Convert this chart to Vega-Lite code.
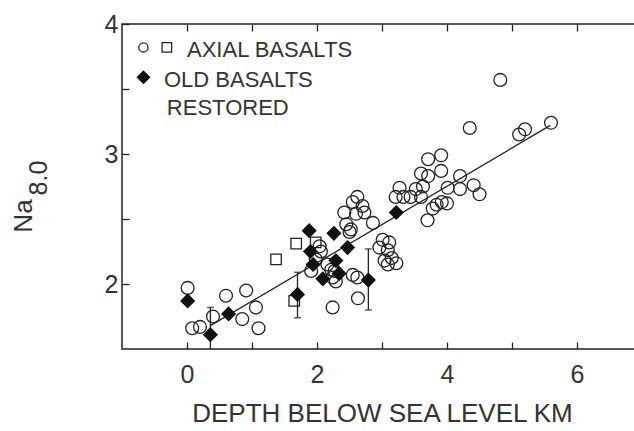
{
  "$schema": "https://vega.github.io/schema/vega-lite/v6.json",
  "width": 520,
  "height": 325,
  "autosize": {"type": "none"},
  "padding": {"left": 122, "top": 24, "right": 0, "bottom": 82},
  "background": "white",
  "config": {
    "font": "Liberation Sans",
    "view": {"stroke": "#222", "strokeWidth": 1.5},
    "axis": {"labelColor": "#333", "tickColor": "#222", "titleColor": "#333", "labelFont": "Liberation Sans", "titleFont": "Liberation Sans", "grid": false, "domain": false, "tickWidth": 1.3, "zindex": 2}
  },
  "datasets": {
    "pts": [
      {"depth": 0.01, "na": 1.97, "kind": "axial circle"},
      {"depth": 0.08, "na": 1.66, "kind": "axial circle"},
      {"depth": 0.20, "na": 1.67, "kind": "axial circle"},
      {"depth": 0.40, "na": 1.75, "kind": "axial circle"},
      {"depth": 0.60, "na": 1.91, "kind": "axial circle"},
      {"depth": 0.91, "na": 1.95, "kind": "axial circle"},
      {"depth": 0.85, "na": 1.73, "kind": "axial circle"},
      {"depth": 1.06, "na": 1.82, "kind": "axial circle"},
      {"depth": 1.10, "na": 1.66, "kind": "axial circle"},
      {"depth": 1.91, "na": 2.10, "kind": "axial circle"},
      {"depth": 2.04, "na": 2.29, "kind": "axial circle"},
      {"depth": 2.06, "na": 2.25, "kind": "axial circle"},
      {"depth": 1.98, "na": 2.19, "kind": "axial circle"},
      {"depth": 2.16, "na": 2.15, "kind": "axial circle"},
      {"depth": 2.22, "na": 2.11, "kind": "axial circle"},
      {"depth": 2.27, "na": 2.10, "kind": "axial circle"},
      {"depth": 2.24, "na": 2.05, "kind": "axial circle"},
      {"depth": 2.29, "na": 2.02, "kind": "axial circle"},
      {"depth": 2.24, "na": 1.82, "kind": "axial circle"},
      {"depth": 2.55, "na": 2.07, "kind": "axial circle"},
      {"depth": 2.62, "na": 2.05, "kind": "axial circle"},
      {"depth": 2.63, "na": 1.89, "kind": "axial circle"},
      {"depth": 2.42, "na": 2.55, "kind": "axial circle"},
      {"depth": 2.55, "na": 2.63, "kind": "axial circle"},
      {"depth": 2.62, "na": 2.67, "kind": "axial circle"},
      {"depth": 2.70, "na": 2.60, "kind": "axial circle"},
      {"depth": 2.60, "na": 2.54, "kind": "axial circle"},
      {"depth": 2.73, "na": 2.55, "kind": "axial circle"},
      {"depth": 2.86, "na": 2.47, "kind": "axial circle"},
      {"depth": 2.45, "na": 2.46, "kind": "axial circle"},
      {"depth": 2.52, "na": 2.42, "kind": "axial circle"},
      {"depth": 2.50, "na": 2.40, "kind": "axial circle"},
      {"depth": 2.96, "na": 2.28, "kind": "axial circle"},
      {"depth": 3.01, "na": 2.34, "kind": "axial circle"},
      {"depth": 3.11, "na": 2.32, "kind": "axial circle"},
      {"depth": 3.09, "na": 2.26, "kind": "axial circle"},
      {"depth": 3.04, "na": 2.18, "kind": "axial circle"},
      {"depth": 3.15, "na": 2.20, "kind": "axial circle"},
      {"depth": 3.22, "na": 2.16, "kind": "axial circle"},
      {"depth": 3.09, "na": 2.15, "kind": "axial circle"},
      {"depth": 3.21, "na": 2.67, "kind": "axial circle"},
      {"depth": 3.27, "na": 2.74, "kind": "axial circle"},
      {"depth": 3.33, "na": 2.67, "kind": "axial circle"},
      {"depth": 3.44, "na": 2.67, "kind": "axial circle"},
      {"depth": 3.52, "na": 2.73, "kind": "axial circle"},
      {"depth": 3.60, "na": 2.67, "kind": "axial circle"},
      {"depth": 3.63, "na": 2.75, "kind": "axial circle"},
      {"depth": 3.60, "na": 2.85, "kind": "axial circle"},
      {"depth": 3.71, "na": 2.83, "kind": "axial circle"},
      {"depth": 3.71, "na": 2.96, "kind": "axial circle"},
      {"depth": 3.91, "na": 2.99, "kind": "axial circle"},
      {"depth": 3.91, "na": 2.87, "kind": "axial circle"},
      {"depth": 4.01, "na": 2.74, "kind": "axial circle"},
      {"depth": 4.20, "na": 2.83, "kind": "axial circle"},
      {"depth": 4.20, "na": 2.73, "kind": "axial circle"},
      {"depth": 4.41, "na": 2.76, "kind": "axial circle"},
      {"depth": 4.50, "na": 2.69, "kind": "axial circle"},
      {"depth": 3.78, "na": 2.58, "kind": "axial circle"},
      {"depth": 3.84, "na": 2.61, "kind": "axial circle"},
      {"depth": 3.92, "na": 2.63, "kind": "axial circle"},
      {"depth": 4.00, "na": 2.62, "kind": "axial circle"},
      {"depth": 3.70, "na": 2.49, "kind": "axial circle"},
      {"depth": 4.35, "na": 3.20, "kind": "axial circle"},
      {"depth": 4.82, "na": 3.57, "kind": "axial circle"},
      {"depth": 5.11, "na": 3.15, "kind": "axial circle"},
      {"depth": 5.20, "na": 3.19, "kind": "axial circle"},
      {"depth": 5.60, "na": 3.24, "kind": "axial circle"},
      {"depth": 1.37, "na": 2.19, "kind": "axial square"},
      {"depth": 1.68, "na": 2.31, "kind": "axial square"},
      {"depth": 1.98, "na": 2.32, "kind": "axial square"},
      {"depth": 1.65, "na": 1.87, "kind": "axial square"},
      {"depth": 0.01, "na": 1.87, "kind": "old"},
      {"depth": 0.36, "na": 1.61, "kind": "old"},
      {"depth": 0.64, "na": 1.77, "kind": "old"},
      {"depth": 1.70, "na": 1.92, "kind": "old"},
      {"depth": 1.88, "na": 2.41, "kind": "old"},
      {"depth": 1.90, "na": 2.25, "kind": "old"},
      {"depth": 1.94, "na": 2.15, "kind": "old"},
      {"depth": 2.09, "na": 2.04, "kind": "old"},
      {"depth": 2.26, "na": 2.39, "kind": "old"},
      {"depth": 2.29, "na": 2.18, "kind": "old"},
      {"depth": 2.34, "na": 2.08, "kind": "old"},
      {"depth": 2.47, "na": 2.28, "kind": "old"},
      {"depth": 2.79, "na": 2.03, "kind": "old"},
      {"depth": 3.22, "na": 2.55, "kind": "old"}
    ],
    "errs": [
      {"depth": 0.36, "lo": 1.40, "hi": 1.82},
      {"depth": 1.70, "lo": 1.74, "hi": 2.09},
      {"depth": 2.79, "lo": 1.80, "hi": 2.27}
    ],
    "fit": [
      {"depth": 0.36, "na": 1.68},
      {"depth": 5.59, "na": 3.22}
    ]
  },
  "resolve": {"axis": {"x": "independent"}},
  "layer": [
    {
      "data": {"name": "fit"},
      "mark": {"type": "line", "color": "#222", "strokeWidth": 1.3},
      "encoding": {
        "x": {"field": "depth", "type": "quantitative", "scale": {"domain": [-1, 7], "nice": false, "zero": false},
          "axis": {"orient": "bottom", "values": [0, 1, 2, 3, 4, 5, 6], "labelExpr": "datum.value % 2 === 0 ? format(datum.value, 'd') : ''", "tickSize": -7, "labelFontSize": 25, "labelPadding": 20, "title": "DEPTH BELOW SEA LEVEL KM", "titleFontSize": 26, "titleFontWeight": "normal", "titlePadding": 13}},
        "y": {"field": "na", "type": "quantitative", "scale": {"domain": [1.5, 4], "nice": false, "zero": false},
          "axis": {"values": [2, 2.5, 3, 3.5, 4], "labelExpr": "datum.value % 1 === 0 ? format(datum.value, 'd') : ''", "tickSize": -7, "labelFontSize": 25, "labelPadding": 11, "title": null}}
      }
    },
    {
      "data": {"name": "errs"},
      "mark": {"type": "rule", "color": "#222", "strokeWidth": 1.3, "clip": true},
      "encoding": {
        "x": {"field": "depth", "type": "quantitative", "axis": null},
        "y": {"field": "lo", "type": "quantitative"},
        "y2": {"field": "hi"}
      }
    },
    {
      "data": {"name": "errs"},
      "mark": {"type": "tick", "orient": "horizontal", "color": "#222", "size": 7, "thickness": 1.5, "clip": true},
      "encoding": {
        "x": {"field": "depth", "type": "quantitative", "axis": null},
        "y": {"field": "lo", "type": "quantitative"}
      }
    },
    {
      "data": {"name": "errs"},
      "mark": {"type": "tick", "orient": "horizontal", "color": "#222", "size": 7, "thickness": 1.5, "clip": true},
      "encoding": {
        "x": {"field": "depth", "type": "quantitative", "axis": null},
        "y": {"field": "hi", "type": "quantitative"}
      }
    },
    {
      "data": {"name": "pts"},
      "transform": [{"filter": "datum.kind === 'axial circle'"}],
      "mark": {"type": "point", "shape": "circle", "filled": false, "size": 165, "stroke": "#222", "strokeWidth": 1.3, "opacity": 1},
      "encoding": {
        "x": {"field": "depth", "type": "quantitative",
          "axis": {"orient": "top", "values": [0, 1, 2, 3, 4, 5, 6], "labels": false, "tickSize": -7, "title": null}},
        "y": {"field": "na", "type": "quantitative"}
      }
    },
    {
      "data": {"name": "pts"},
      "transform": [{"filter": "datum.kind === 'axial square'"}],
      "mark": {"type": "point", "shape": "square", "filled": false, "size": 110, "stroke": "#222", "strokeWidth": 1.3, "opacity": 1},
      "encoding": {
        "x": {"field": "depth", "type": "quantitative", "axis": null},
        "y": {"field": "na", "type": "quantitative"}
      }
    },
    {
      "data": {"name": "pts"},
      "transform": [{"filter": "datum.kind === 'old'"}],
      "mark": {"type": "point", "shape": "diamond", "filled": true, "size": 230, "color": "#111", "opacity": 1},
      "encoding": {
        "x": {"field": "depth", "type": "quantitative", "axis": null},
        "y": {"field": "na", "type": "quantitative"}
      }
    },
    {
      "data": {"values": [{"s": "circle"}]},
      "mark": {"type": "point", "shape": "circle", "filled": false, "size": 85, "stroke": "#222", "strokeWidth": 1.3, "opacity": 1},
      "encoding": {
        "x": {"datum": -0.67, "type": "quantitative", "axis": null},
        "y": {"datum": 3.82, "type": "quantitative"}
      }
    },
    {
      "data": {"values": [{"s": "square"}]},
      "mark": {"type": "point", "shape": "square", "filled": false, "size": 90, "stroke": "#222", "strokeWidth": 1.3, "opacity": 1},
      "encoding": {
        "x": {"datum": -0.31, "type": "quantitative", "axis": null},
        "y": {"datum": 3.82, "type": "quantitative"}
      }
    },
    {
      "data": {"values": [{"s": "diamond"}]},
      "mark": {"type": "point", "shape": "diamond", "filled": true, "size": 200, "color": "#111", "opacity": 1},
      "encoding": {
        "x": {"datum": -0.67, "type": "quantitative", "axis": null},
        "y": {"datum": 3.59, "type": "quantitative"}
      }
    },
    {
      "data": {"values": [{"t": "AXIAL BASALTS"}]},
      "mark": {"type": "text", "align": "left", "baseline": "alphabetic", "fontSize": 22, "color": "#333"},
      "encoding": {
        "x": {"datum": 0.0, "type": "quantitative", "axis": null},
        "y": {"datum": 3.746, "type": "quantitative"},
        "text": {"field": "t"}
      }
    },
    {
      "data": {"values": [{"t": "OLD BASALTS"}]},
      "mark": {"type": "text", "align": "left", "baseline": "alphabetic", "fontSize": 22, "color": "#333"},
      "encoding": {
        "x": {"datum": -0.354, "type": "quantitative", "axis": null},
        "y": {"datum": 3.518, "type": "quantitative"},
        "text": {"field": "t"}
      }
    },
    {
      "data": {"values": [{"t": "RESTORED"}]},
      "mark": {"type": "text", "align": "left", "baseline": "alphabetic", "fontSize": 22, "color": "#333"},
      "encoding": {
        "x": {"datum": -0.31, "type": "quantitative", "axis": null},
        "y": {"datum": 3.30, "type": "quantitative"},
        "text": {"field": "t"}
      }
    },
    {
      "data": {"values": [{"t": "Na"}]},
      "mark": {"type": "text", "align": "center", "baseline": "alphabetic", "angle": 270, "fontSize": 26, "color": "#333"},
      "encoding": {
        "x": {"datum": -2.385, "type": "quantitative", "axis": null},
        "y": {"datum": 2.523, "type": "quantitative"},
        "text": {"field": "t"}
      }
    },
    {
      "data": {"values": [{"t": "8.0"}]},
      "mark": {"type": "text", "align": "center", "baseline": "alphabetic", "angle": 270, "fontSize": 25, "color": "#333"},
      "encoding": {
        "x": {"datum": -2.154, "type": "quantitative", "axis": null},
        "y": {"datum": 2.815, "type": "quantitative"},
        "text": {"field": "t"}
      }
    }
  ]
}
